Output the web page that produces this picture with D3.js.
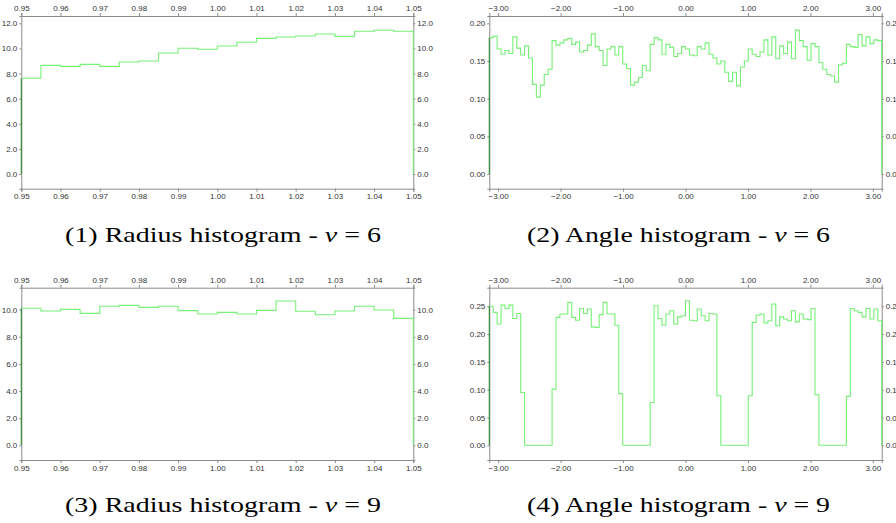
<!DOCTYPE html>
<html>
<head>
<meta charset="utf-8">
<script src="https://cdn.jsdelivr.net/npm/d3@7"></script>
<style>
  html, body { margin: 0; padding: 0; background: #fff; }
  svg { display: block; }
  .tick text { font-family: "Liberation Sans", Arial, sans-serif; font-size: 8px; fill: #333; }
  .caption { font-family: "Liberation Serif", "DejaVu Serif", serif; font-size: 21px; fill: #000; }
</style>
</head>
<body>
<svg id="chart" width="896" height="523"></svg>
<script>
// ---------------- data ----------------
const radiusRange = [0.95, 1.05];
const angleRange = [-Math.PI, Math.PI];

const radiusV6 = [7.62, 8.65, 8.57, 8.73, 8.57, 8.92, 9.00, 9.64, 10.01, 9.93,
                  10.19, 10.49, 10.80, 10.91, 10.99, 11.15, 10.96, 11.36, 11.44, 11.36];

const angleV6 = [0.181, 0.183, 0.166, 0.159, 0.164, 0.160, 0.182, 0.167, 0.158, 0.170,
                 0.154, 0.119, 0.102, 0.118, 0.132, 0.139, 0.177, 0.171, 0.174, 0.178,
                 0.180, 0.172, 0.175, 0.162, 0.164, 0.171, 0.186, 0.169, 0.164, 0.144,
                 0.166, 0.169, 0.158, 0.169, 0.146, 0.140, 0.118, 0.122, 0.128, 0.144,
                 0.137, 0.172, 0.181, 0.178, 0.159, 0.172, 0.168, 0.156, 0.160, 0.169,
                 0.166, 0.158, 0.157, 0.169, 0.166, 0.174, 0.159, 0.154, 0.146, 0.150,
                 0.135, 0.123, 0.135, 0.117, 0.142, 0.150, 0.166, 0.159, 0.156, 0.162,
                 0.178, 0.158, 0.182, 0.153, 0.170, 0.160, 0.175, 0.153, 0.191, 0.177,
                 0.169, 0.151, 0.173, 0.169, 0.148, 0.139, 0.132, 0.130, 0.122, 0.145,
                 0.147, 0.172, 0.169, 0.168, 0.185, 0.170, 0.182, 0.173, 0.178, 0.177];

const radiusV9 = [10.10, 9.90, 10.02, 9.73, 10.25, 10.32, 10.17, 10.25, 9.93, 9.68,
                  9.80, 9.68, 9.95, 10.64, 9.88, 9.63, 9.90, 10.25, 9.98, 9.36];

const angleV9 = [0.250, 0.239, 0.218, 0.252, 0.246, 0.252, 0.228, 0.237, 0.095, 0,
                 0, 0, 0, 0, 0, 0, 0.101, 0.230, 0.236, 0.236,
                 0.257, 0.230, 0.225, 0.246, 0.237, 0.245, 0.213, 0.212, 0.235, 0.257,
                 0.236, 0.236, 0.216, 0.093, 0, 0, 0, 0, 0, 0,
                 0, 0.077, 0.251, 0.228, 0.216, 0.236, 0.242, 0.218, 0.231, 0.233,
                 0.260, 0.225, 0.224, 0.245, 0.233, 0.224, 0.237, 0.236, 0.089, 0,
                 0, 0, 0, 0, 0, 0, 0.089, 0.221, 0.234, 0.236,
                 0.220, 0.224, 0.254, 0.215, 0.231, 0.227, 0.224, 0.242, 0.222, 0.236,
                 0.227, 0.226, 0.246, 0.091, 0, 0, 0, 0, 0, 0,
                 0, 0.088, 0.246, 0.242, 0.239, 0.231, 0.246, 0.227, 0.245, 0.224];

const radiusTicks = [0.95, 0.96, 0.97, 0.98, 0.99, 1.00, 1.01, 1.02, 1.03, 1.04, 1.05];
const angleTicks = [-3, -2, -1, 0, 1, 2, 3];
const yTicksR6 = [0, 2, 4, 6, 8, 10, 12];
const yTicksA6 = [0, 0.05, 0.10, 0.15, 0.20];
const yTicksR9 = [0, 2, 4, 6, 8, 10];
const yTicksA9 = [0, 0.05, 0.10, 0.15, 0.20, 0.25];

const captions = [
  {num: "(1)", name: "Radius histogram", v: "6"},
  {num: "(2)", name: "Angle histogram", v: "6"},
  {num: "(3)", name: "Radius histogram", v: "9"},
  {num: "(4)", name: "Angle histogram", v: "9"}
];

// ---------------- layout ----------------
const svg = d3.select("#chart");
const colLeft = [21.3, 413.3], colRight = [489.3, 881.7];
const rowTop = [16, 188.7], rowBottom = [287.7, 460];

const panels = [
  {vals: radiusV6, range: radiusRange, xt: radiusTicks, yt: yTicksR6, yd: [-1.17, 12.58], yf: ".1f", xr: colLeft, yr: rowTop, cap: captions[0], capX: 223, capW: 316, capY: 242},
  {vals: angleV6, range: angleRange, xt: angleTicks, yt: yTicksA6, yd: [-0.0195, 0.2097], yf: ".2f", xr: colRight, yr: rowTop, cap: captions[1], capX: 678.5, capW: 303, capY: 242},
  {vals: radiusV9, range: radiusRange, xt: radiusTicks, yt: yTicksR9, yd: [-1.08, 11.62], yf: ".1f", xr: colLeft, yr: rowBottom, cap: captions[2], capX: 223, capW: 316, capY: 512},
  {vals: angleV9, range: angleRange, xt: angleTicks, yt: yTicksA9, yd: [-0.0264, 0.2834], yf: ".2f", xr: colRight, yr: rowBottom, cap: captions[3], capX: 678.5, capW: 303, capY: 512}
];

const axisColor = "#8a8a8a";
const lineColor = "#78f078";

panels.forEach(p => {
  const x = d3.scaleLinear().domain(p.range).range(p.xr);
  const y = d3.scaleLinear().domain(p.yd).range([p.yr[1], p.yr[0]]);
  const g = svg.append("g");

  const styleAxis = sel => {
    sel.select(".domain").attr("stroke", axisColor);
    sel.selectAll(".tick line").attr("stroke", axisColor);
  };
  const xFmt = d3.format(".2f");
  const yFmt = d3.format(p.yf);

  g.append("g").attr("transform", `translate(0,${p.yr[1]})`)
    .call(d3.axisBottom(x).tickValues(p.xt).tickFormat(xFmt).tickSizeOuter(0).tickSize(3).tickPadding(2))
    .call(styleAxis);
  g.append("g").attr("transform", `translate(0,${p.yr[0]})`)
    .call(d3.axisTop(x).tickValues(p.xt).tickFormat(xFmt).tickSizeOuter(0).tickSize(3).tickPadding(2))
    .call(styleAxis);
  g.append("g").attr("transform", `translate(${p.xr[0]},0)`)
    .call(d3.axisLeft(y).tickValues(p.yt).tickFormat(yFmt).tickSizeOuter(0).tickSize(2).tickPadding(2))
    .call(styleAxis);
  g.append("g").attr("transform", `translate(${p.xr[1]},0)`)
    .call(d3.axisRight(y).tickValues(p.yt).tickFormat(yFmt).tickSizeOuter(0).tickSize(2).tickPadding(2))
    .call(styleAxis);
  g.selectAll(".domain").attr("fill", "none");
  g.selectAll("text").attr("font-family", null).attr("font-size", null);

  // histogram step line
  const n = p.vals.length;
  const edges = d3.range(n + 1).map(i => p.range[0] + i * (p.range[1] - p.range[0]) / n);
  const pts = [[edges[0], 0]];
  p.vals.forEach((v, i) => pts.push([edges[i], v]));
  pts.push([edges[n], p.vals[n - 1]]);
  pts.push([edges[n], 0]);
  const line = d3.line().x(d => x(d[0])).y(d => y(d[1])).curve(d3.curveStepAfter);
  g.append("path").datum(pts.slice(1))
    .attr("fill", "none").attr("stroke", lineColor).attr("stroke-width", 1.1)
    .attr("d", line);
  // left edge (drawn darker over axis)
  g.append("line")
    .attr("x1", x(edges[0])).attr("x2", x(edges[0]))
    .attr("y1", y(0)).attr("y2", y(p.vals[0]))
    .attr("stroke", "#2e8b2e").attr("stroke-width", 1.1);

  // caption
  const t = svg.append("text").attr("class", "caption")
    .attr("x", p.capX).attr("y", p.capY).attr("text-anchor", "middle")
    .attr("textLength", p.capW).attr("lengthAdjust", "spacingAndGlyphs");
  t.append("tspan").text(`${p.cap.num} ${p.cap.name} - `);
  t.append("tspan").attr("font-style", "italic").text("v");
  t.append("tspan").text(` = ${p.cap.v}`);
});
</script>
</body>
</html>
